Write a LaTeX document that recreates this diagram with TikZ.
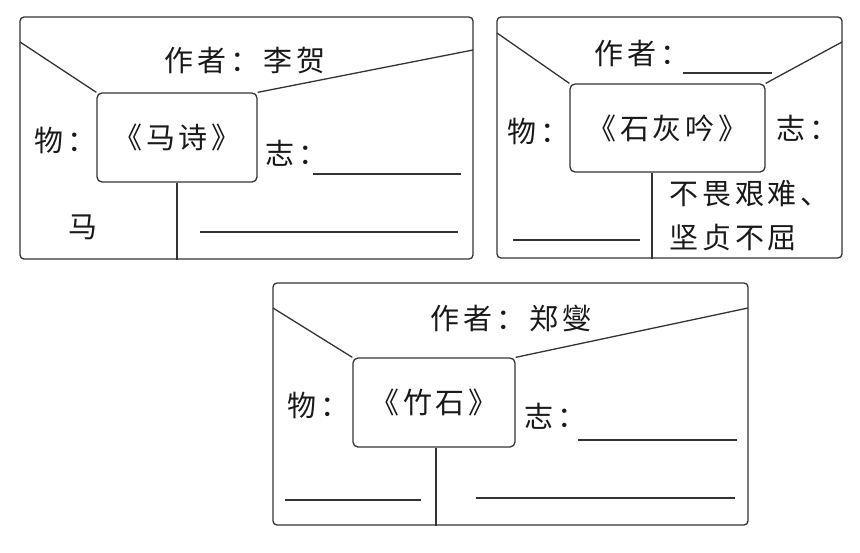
\documentclass[tikz,border=0pt]{standalone}
\usepackage{fontspec}
\newfontfamily\cjk{Noto Sans CJK SC}[LetterSpace=13]
\usepackage{tikz}

\begin{document}
\begin{tikzpicture}[
        x=1pt, y=-1pt,
        line width=1.3pt,
        every node/.style={font=\cjk\fontsize{29}{31}\selectfont, text=black!90, inner sep=0pt},
        card/.style={
            rectangle,
            draw=black!80,
            rounded corners=4pt
        },
        poem/.style={
            rectangle,
            draw=black!80,
            rounded corners=5pt,
            align=center
        },
        word/.style={anchor=west},
        blank/.style={draw=black!80, line width=1.1pt}
    ]
    \useasboundingbox (0,0) rectangle (860,552);

    % Cards
    \node[card, minimum width=453pt, minimum height=242pt] (card1) at (246.5,138) {};
    \node[card, minimum width=345pt, minimum height=241pt] (card2) at (669.5,137.5) {};
    \node[card, minimum width=475pt, minimum height=242pt] (card3) at (510.5,404) {};

    % Poems
    \node[poem, minimum width=160pt, minimum height=89pt] (poem1) at (177,137.5) {《马诗》};
    \node[poem, minimum width=195pt, minimum height=88pt] (poem2) at (667.5,128) {《石灰吟》};
    \node[poem, minimum width=162pt, minimum height=89pt] (poem3) at (434,402.5) {《竹石》};

    % Edge points
    \coordinate (left1) at (20,42);
    \coordinate (right1) at (473,50);
    \coordinate (left2) at (497,33);
    \coordinate (right2) at (842,42);
    \coordinate (left3) at (273,308);
    \coordinate (right3) at (748,308);
    \coordinate (stem2) at ([xshift=-15.5pt]poem2.south);

    % Lines
    \draw[black!80] (left1) -- (poem1.north west);
    \draw[black!80] (poem1.north east) -- (right1);
    \draw[black!80] (poem1.south) -- (poem1.south |- card1.south);
    \draw[black!80] (left2) -- (poem2.north west);
    \draw[black!80] (poem2.north east) -- (right2);
    \draw[black!80] (stem2) -- (stem2 |- card2.south);
    \draw[black!80] (left3) -- (poem3.north west);
    \draw[black!80] (poem3.north east) -- (right3);
    \draw[black!80] ([xshift=2pt]poem3.south) -- ([xshift=2pt]poem3.south |- card3.south);

    % Texts
    \node (author1) at (245,61) {作者：李贺};
    \node[word] (thing1) at (34,140) {物：};
    \node[word] (will1) at (265,153) {志：};
    \node (horse) at (83,227) {马};

    \node[word] (author2) at (594,53) {作者：};
    \node[word] (thing2) at (507,131) {物：};
    \node[word] (will2) at (776,128) {志：};
    \node[word] (answer2a) at (669,194) {不畏艰难、};
    \node[word] (answer2b) at (669,238) {坚贞不屈};

    \node (author3) at (511,318) {作者：郑燮};
    \node[word] (thing3) at (287,405) {物：};
    \node[word] (will3) at (524,416) {志：};

    % Blanks
    \draw[blank] (313,174) -- (461,174);
    \draw[blank] (200,232) -- (458,232);
    \draw[blank] (683,73) -- (772,73);
    \draw[blank] (513,240) -- (640,240);
    \draw[blank] (578,440) -- (737,440);
    \draw[blank] (285,500) -- (421,500);
    \draw[blank] (476,498) -- (735,498);

\end{tikzpicture}
\end{document}
